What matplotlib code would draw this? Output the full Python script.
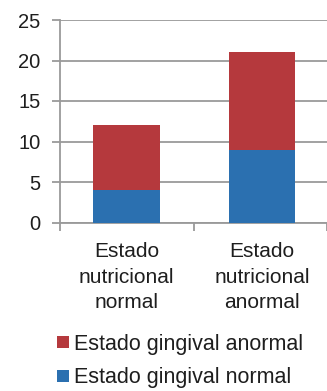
import matplotlib
matplotlib.use("Agg")
import matplotlib.pyplot as plt
from matplotlib.patches import Patch

plt.rcParams['font.family'] = ['Liberation Sans', 'DejaVu Sans']

categories = ["Estado\nnutricional\nnormal", "Estado\nnutricional\nanormal"]
gingival_normal = [4, 9]
gingival_anormal = [8, 12]
series_labels = ["Estado gingival anormal", "Estado gingival normal"]
y_ticks = [0, 5, 10, 15, 20, 25]

red = "#B5393D"
blue = "#2B70B0"
grid_gray = "#9A9A9A"
text_color = "#1E1E1E"

fig = plt.figure(figsize=(3.27, 3.91), dpi=100)
ax = fig.add_axes([60 / 327, 168.5 / 391, 1 - 60 / 327, 202.5 / 391])

x = list(range(len(categories)))
ax.bar(x, gingival_normal, width=0.49, color=blue, zorder=3)
ax.bar(x, gingival_anormal, width=0.49, bottom=gingival_normal, color=red, zorder=3)

ax.set_ylim(0, 25)
ax.set_xlim(-0.49, 1.48)
ax.set_yticks(y_ticks)
ax.set_yticklabels([str(v) for v in y_ticks], fontsize=14.5, color=text_color)
ax.yaxis.grid(True, color=grid_gray, linewidth=1.3, zorder=0)
ax.set_axisbelow(True)

ax.set_xticks(x)
ax.set_xticklabels(categories, fontsize=15, color=text_color, linespacing=1.45)
ax.tick_params(axis='x', length=0, pad=14)
ax.set_xticks([-0.49, 0.5, 1.48], minor=True)
ax.tick_params(axis='x', which='minor', length=6, width=1.3, color=grid_gray)
ax.tick_params(axis='y', length=6, width=1.3, color=grid_gray, pad=8)

for side in ("top", "right"):
    ax.spines[side].set_visible(False)
ax.spines["left"].set_color(grid_gray)
ax.spines["left"].set_linewidth(1.3)
ax.spines["bottom"].set_color(grid_gray)
ax.spines["bottom"].set_linewidth(1.3)

handles = [Patch(facecolor=red), Patch(facecolor=blue)]
fig.legend(handles, series_labels, loc="upper left",
           bbox_to_anchor=(57 / 327, 1 - 334 / 391), frameon=False,
           fontsize=15.5, handlelength=0.55, handleheight=0.5,
           handletextpad=0.25, labelspacing=0.58, borderpad=0,
           borderaxespad=0, labelcolor=text_color)

fig.savefig("out.png", dpi=100)
